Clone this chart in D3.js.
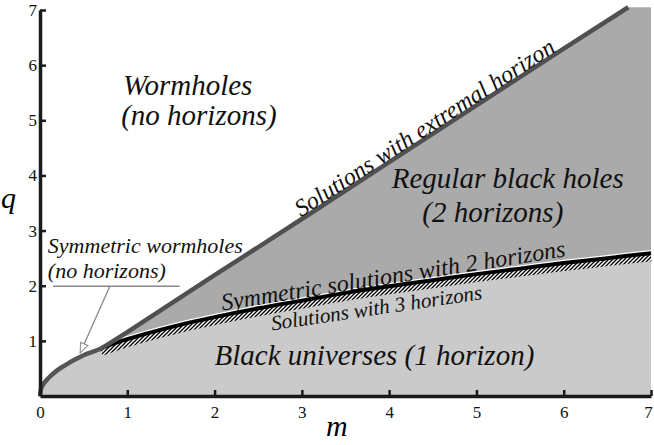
<!DOCTYPE html>
<html>
<head>
<meta charset="utf-8">
<script src="https://cdn.jsdelivr.net/npm/d3@7"></script>
<style>
  body { margin: 0; background: #fff; }
</style>
</head>
<body>
<svg width="654" height="445" font-family="Liberation Serif"></svg>
<script>
var mTicks = [0, 1, 2, 3, 4, 5, 6, 7];
var qTicks = [1, 2, 3, 4, 5, 6, 7];

// extremal horizon: curved part near the origin, then the straight branch
var extremalM = [0, 0.01, 0.03, 0.06, 0.1, 0.2, 0.3, 0.4, 0.5, 0.6, 0.7, 1, 2, 3, 4, 5, 6, 6.74];
var extremalQ = [0, 0.11, 0.19, 0.26, 0.33, 0.47, 0.57, 0.66, 0.74, 0.8, 0.86, 1.16, 2.19, 3.21, 4.24, 5.27, 6.3, 7.05];

// symmetric solutions with 2 horizons
var symM = [0.7, 1, 1.5, 2, 2.5, 3, 3.5, 4, 4.5, 5, 5.5, 6, 6.5, 7];
var symQ = [0.87, 1.03, 1.25, 1.43, 1.59, 1.73, 1.87, 1.99, 2.1, 2.21, 2.31, 2.41, 2.5, 2.59];

var qTop = 7.05, mJoin = 0.7;
var FONT = "Liberation Serif";

var svg = d3.select("svg");

var x = d3.scaleLinear().domain([0, 7]).range([40, 651]);
var y = d3.scaleLinear().domain([0, 7]).range([396, 10]);

var extremal = extremalM.map(function (m, i) { return [m, extremalQ[i]]; });
var sym = symM.map(function (m, i) { return [m, symQ[i]]; });
var curvePart = extremal.filter(function (d) { return d[0] <= mJoin; });
var linePart = extremal.filter(function (d) { return d[0] >= mJoin; });

var line = d3.line()
  .x(function (d) { return x(d[0]); })
  .y(function (d) { return y(d[1]); })
  .curve(d3.curveMonotoneX);

var defs = svg.append("defs");
var hatch = defs.append("pattern")
  .attr("id", "hatch")
  .attr("patternUnits", "userSpaceOnUse")
  .attr("width", 4)
  .attr("height", 4);
hatch.append("rect").attr("width", 4).attr("height", 4).attr("fill", "#fff");
hatch.append("path")
  .attr("d", "M-1,1 l2,-2 M0,4 l4,-4 M3,5 l2,-2")
  .attr("stroke", "#000")
  .attr("stroke-width", 1.4);

defs.append("marker")
  .attr("id", "arrow")
  .attr("viewBox", "0 0 12 10")
  .attr("refX", 11)
  .attr("refY", 5)
  .attr("markerWidth", 12)
  .attr("markerHeight", 10)
  .attr("markerUnits", "userSpaceOnUse")
  .attr("orient", "auto")
  .append("path")
  .attr("d", "M1,1 L11,5 L1,9 Z")
  .attr("fill", "#fff")
  .attr("stroke", "#888")
  .attr("stroke-width", 1);

// light region: below extremal curve part and symmetric curve
var lightPts = curvePart.concat(sym).concat([[7, 0], [0, 0]]);
svg.append("path")
  .attr("d", "M" + lightPts.map(function (d) { return x(d[0]) + "," + y(d[1]); }).join("L") + "Z")
  .attr("fill", "#cacaca");

// dark region: between extremal straight branch and symmetric curve
var darkPts = linePart.concat([[7, qTop]]).concat(sym.slice().reverse());
svg.append("path")
  .attr("d", "M" + darkPts.map(function (d) { return x(d[0]) + "," + y(d[1]); }).join("L") + "Z")
  .attr("fill", "#aaaaaa");

// hatched band for 3-horizon solutions
svg.append("path")
  .datum(sym)
  .attr("d", line)
  .attr("fill", "none")
  .attr("stroke", "url(#hatch)")
  .attr("stroke-width", 8)
  .attr("transform", "translate(0,4)");

svg.append("path")
  .datum(sym)
  .attr("d", line)
  .attr("fill", "none")
  .attr("stroke", "#fff")
  .attr("stroke-width", 4.5)
  .attr("transform", "translate(0,-1)");

svg.append("path")
  .datum(sym)
  .attr("d", line)
  .attr("fill", "none")
  .attr("stroke", "#000")
  .attr("stroke-width", 4);

svg.append("path")
  .datum(curvePart)
  .attr("d", line)
  .attr("fill", "none")
  .attr("stroke", "#555")
  .attr("stroke-width", 4.5);

svg.append("path")
  .datum(linePart)
  .attr("d", d3.line().x(function (d) { return x(d[0]); }).y(function (d) { return y(d[1]); }))
  .attr("fill", "none")
  .attr("stroke", "#505050")
  .attr("stroke-width", 4.5);

// axes
var xAxis = svg.append("g")
  .attr("transform", "translate(0," + y(0) + ")")
  .call(d3.axisBottom(x).tickValues(mTicks).tickFormat(d3.format("d"))
    .tickSize(-6).tickSizeOuter(0).tickPadding(10));
var yAxis = svg.append("g")
  .attr("transform", "translate(" + x(0) + ",0)")
  .call(d3.axisLeft(y).tickValues(qTicks).tickFormat(d3.format("d"))
    .tickSize(-6).tickSizeOuter(0).tickPadding(3));

[xAxis, yAxis].forEach(function (g) {
  g.attr("font-family", FONT).attr("font-size", 17);
  g.select(".domain").attr("stroke", "#1a1a1a").attr("stroke-width", 3.5);
  g.selectAll(".tick line").attr("stroke", "#1a1a1a").attr("stroke-width", 2.5);
  g.selectAll(".tick text").attr("fill", "#111");
});
xAxis.selectAll(".tick text").filter(function (d) { return d === 7; }).attr("dx", -3);

svg.append("text")
  .attr("x", 1).attr("y", 208)
  .attr("font-family", FONT)
  .attr("font-style", "italic").attr("font-size", 30)
  .text("q");
svg.append("text")
  .attr("x", x(3.4)).attr("y", 436)
  .attr("text-anchor", "middle")
  .attr("font-family", FONT)
  .attr("font-style", "italic").attr("font-size", 30)
  .text("m");

function label(txt, m, q, size, angle) {
  svg.append("text")
    .attr("transform", "translate(" + x(m) + "," + y(q) + ") rotate(" + (angle || 0) + ")")
    .attr("font-family", FONT)
    .attr("font-style", "italic")
    .attr("font-size", size)
    .attr("fill", "#111")
    .text(txt);
}

function slopeAngle(m1, q1, m2, q2) {
  return Math.atan2(y(q2) - y(q1), x(m2) - x(m1)) * 180 / Math.PI;
}

label("Wormholes", 0.95, 5.46, 29);
label("(no horizons)", 0.93, 4.91, 29);
label("Regular black holes", 4.03, 3.78, 29);
label("(2 horizons)", 4.38, 3.16, 29);
label("Black universes (1 horizon)", 2.0, 0.56, 29);

label("Solutions with extremal horizon", 2.99, 3.24, 24, slopeAngle(3, 3.21, 6, 6.3));
label("Symmetric solutions with 2 horizons", 2.09, 1.55, 24, slopeAngle(2.1, 1.46, 6.1, 2.46));
label("Solutions with 3 horizons", 2.66, 1.19, 21, slopeAngle(2.66, 1.19, 5.0, 1.74));

label("Symmetric wormholes", 0.09, 2.59, 22);
label("(no horizons)", 0.09, 2.14, 22);

svg.append("line")
  .attr("x1", x(0.15)).attr("x2", x(1.6))
  .attr("y1", y(1.99)).attr("y2", y(1.99))
  .attr("stroke", "#888").attr("stroke-width", 1.3);
svg.append("line")
  .attr("x1", x(0.8)).attr("y1", y(1.99))
  .attr("x2", x(0.46)).attr("y2", y(0.78))
  .attr("stroke", "#888").attr("stroke-width", 1.3)
  .attr("marker-end", "url(#arrow)");
</script>
</body>
</html>
